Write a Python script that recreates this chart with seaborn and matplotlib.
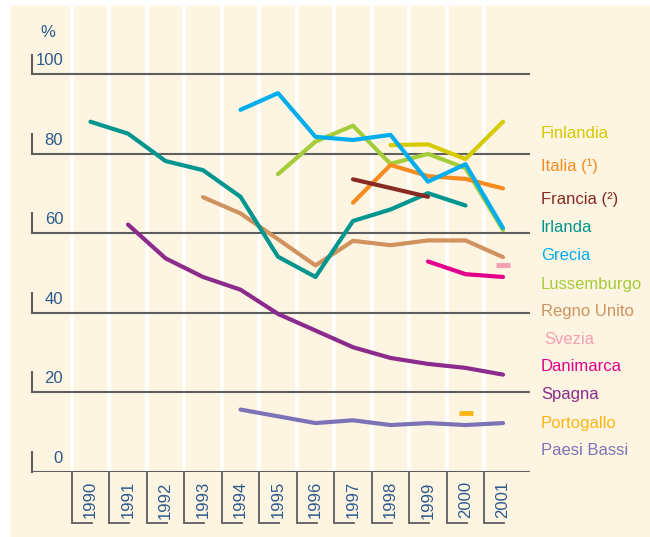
import numpy as np
import pandas as pd
import seaborn as sns
import matplotlib.pyplot as plt
from matplotlib.patches import Rectangle
from matplotlib.transforms import blended_transform_factory

plt.rcParams['font.family'] = ['Liberation Sans Narrow', 'DejaVu Sans Condensed', 'Liberation Sans']

nan = np.nan
anni = list(range(1990, 2002))

finlandia = [nan] * 8 + [82.2, 82.4, 78.7, 88.1]
italia = [nan] * 7 + [67.7, 77.2, 74.4, 73.7, 71.3]
francia = [nan] * 7 + [73.6, nan, 69.2, nan, nan]
irlanda = [88.1, 85.1, 78.2, 75.9, 69.2, 54.1, 49.0, 63.1, 66.0, 70.1, 67.0, nan]
grecia = [nan] * 4 + [91.1, 95.3, 84.3, 83.5, 84.8, 73.0, 77.4, 61.3]
lussemburgo = [nan] * 5 + [74.9, 83.1, 87.1, 77.5, 80.0, 76.4, 60.8]
regno_unito = [nan] * 3 + [69.1, 65.0, 58.5, 51.9, 58.1, 57.0, 58.2, 58.2, 54.0]
svezia = [nan] * 11 + [51.9]
danimarca = [nan] * 9 + [52.9, 49.7, 49.0]
spagna = [nan, 62.2, 53.7, 49.0, 45.8, 39.7, 35.5, 31.3, 28.6, 27.1, 26.1, 24.4]
portogallo = [nan] * 10 + [14.8, nan]
paesi_bassi = [nan] * 4 + [15.6, 13.9, 12.2, 12.9, 11.7, 12.2, 11.7, 12.2]

paesi = ['Finlandia', 'Italia (¹)', 'Francia (²)', 'Irlanda', 'Grecia', 'Lussemburgo',
         'Regno Unito', 'Svezia', 'Danimarca', 'Spagna', 'Portogallo', 'Paesi Bassi']
serie = [finlandia, italia, francia, irlanda, grecia, lussemburgo,
         regno_unito, svezia, danimarca, spagna, portogallo, paesi_bassi]
colori = ['#d6ca00', '#f68b1f', '#862a23', '#00968f', '#00adee', '#a5cd39',
          '#d0925e', '#f5a0b2', '#e2008a', '#8b2b8b', '#fdb515', '#7c72b8']
yticks = [0, 20, 40, 60, 80, 100]

crema = '#fdf5e2'
grigio = '#5e5e5e'
blu = '#2b5a8c'
palette = dict(zip(paesi, colori))

df = pd.DataFrame({p: s for p, s in zip(paesi, serie)}, index=anni)
df.index.name = 'anno'
df_long = df.reset_index().melt(id_vars='anno', var_name='paese', value_name='valore').dropna()

# single-year series are drawn as short dashes
conteggi = df_long['paese'].value_counts()
singoli = [p for p in paesi if conteggi.get(p, 0) == 1]
linee = df_long[~df_long['paese'].isin(singoli)]

ordine = ['Paesi Bassi', 'Spagna', 'Danimarca', 'Regno Unito', 'Irlanda', 'Lussemburgo',
          'Italia (¹)', 'Francia (²)', 'Finlandia', 'Grecia']

fig = plt.figure(figsize=(6.5, 5.37), dpi=100)
fig.patches.append(Rectangle((11 / 650, 0), 1, 531 / 537, transform=fig.transFigure,
                             color=crema, zorder=-5))
ax = fig.add_axes([32 / 650, 65.5 / 537, 498 / 650, 465.5 / 537])
ax.set_facecolor('none')
for s in ax.spines.values():
    s.set_visible(False)

xmin, xmax = 1988.44, 2001.72
ax.set_xlim(xmin, xmax)
ax.set_ylim(0, 117.25)

confini = [a - 0.5 for a in anni]
for b in confini:
    ax.axvline(b, color='white', lw=2.6, zorder=0.5)

for v in yticks:
    ax.axhline(v, color=grigio, lw=1.5, zorder=1)
    ax.plot([xmin, xmin], [v, v + 5], color=grigio, lw=1.5, clip_on=False, zorder=1)
    ax.text(1989.27, v + 3.4, str(v), ha='right', va='center', fontsize=12, color=blu)
ax.text(1988.87, 110.7, '%', ha='center', va='center', fontsize=12, color=blu)

sns.lineplot(data=linee, x='anno', y='valore', hue='paese', hue_order=ordine,
             palette=palette, estimator=None, lw=3, legend=False, ax=ax, zorder=3,
             solid_capstyle='round', solid_joinstyle='round')
for p in singoli:
    d = df_long[df_long['paese'] == p]
    ax.plot(d['anno'], d['valore'], ls='none', marker='_', markersize=10, mew=3.5,
            color=palette[p], zorder=3)

ax.set_xticks(anni)
ax.set_xticklabels([str(a) for a in anni], rotation=90, fontsize=12, color=blu)
ax.set_xticks(confini, minor=True)
ax.tick_params(axis='x', which='major', length=0, pad=7)
ax.tick_params(axis='x', which='minor', length=37, width=1.3, color=grigio, direction='out')
ax.set_yticks([])
ax.set_xlabel('')
ax.set_ylabel('')

trans = blended_transform_factory(ax.transData, ax.transAxes)
yb = -51.5 / 465.5
for b in confini:
    ax.plot([b, b + 20 / 37.5], [yb, yb], transform=trans, color=grigio, lw=1.3, clip_on=False)

y_leg = [134, 166.7, 199.3, 227.3, 255.7, 284, 311.7, 340, 366.7, 395, 423.3, 450.7]
for p, c, y in zip(paesi, colori, y_leg):
    x = 544 if p == 'Svezia' else 541
    fig.text(x / 650, (537 - y) / 537, p, color=c, fontsize=12, va='center', ha='left')

fig.savefig('out.png', dpi=100, facecolor='white')
